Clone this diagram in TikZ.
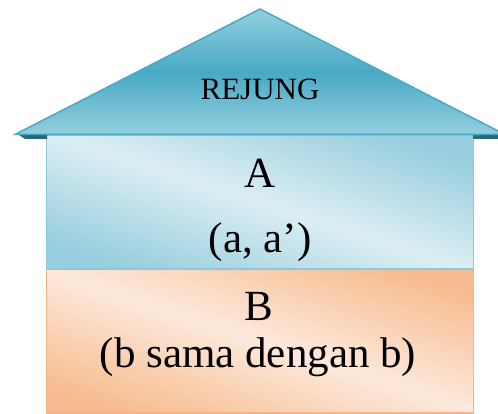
\documentclass[tikz,border=0pt]{standalone}
\usepackage{fontspec}
\setmainfont{Liberation Serif}
\definecolor{roofedge}{HTML}{4AA8C3}
\definecolor{roofmid}{HTML}{48A9C5}
\definecolor{rooflight}{HTML}{93CFDF}
\definecolor{roofdark}{HTML}{2A6878}
\definecolor{alight}{HTML}{DCEEF4}
\definecolor{adark}{HTML}{98CEDE}
\definecolor{aedge}{HTML}{8CCADB}
\definecolor{blight}{HTML}{FDE9DC}
\definecolor{bdark}{HTML}{F7BD90}
\definecolor{bedge}{HTML}{F4B487}
\tikzset{
  lbl/.style={anchor=base, inner sep=0pt, text=black},
  boxA/.style={draw=aedge, line width=1.5pt, top color=adark, bottom color=adark, middle color=alight, shading angle=-18},
  boxB/.style={draw=bedge, line width=1.5pt, top color=bdark, bottom color=bdark, middle color=blight, shading angle=-18},
  roofstyle/.style={draw=roofedge, line width=1.5pt, line join=miter, top color=rooflight, bottom color=rooflight, middle color=roofmid},
  shadowstrip/.style={fill=roofdark, draw=none}
}
\begin{document}
\begin{tikzpicture}[x=1pt,y=1pt]
\useasboundingbox (0,0) rectangle (498,414);
\clip (0,0) rectangle (498,414);
% box B (lower)
\path[boxB] (46.5,0.75) rectangle (473.5,145);
% box A (upper)
\path[boxA] (46.5,145) rectangle (473.5,279);
% dark underside of the roof
\fill[shadowstrip] (19,279) -- (47,279) -- (47,275) -- (25,275) -- cycle;
\fill[shadowstrip] (473,279) -- (504,279) -- (504,275) -- (473,275) -- cycle;
% roof
\path[roofstyle] (15,279.5) -- (260,405) -- (505,279.5) -- cycle;
% texts
\node[lbl, font=\fontsize{31}{36}\selectfont] (rejung) at (260,314) {REJUNG};
\node[lbl, font=\fontsize{43}{50}\selectfont] (a1) at (260,226) {A};
\node[lbl, font=\fontsize{43}{50}\selectfont] (a2) at (260,161) {(a, a’)};
\node[lbl, font=\fontsize{43}{50}\selectfont] (b1) at (259,93) {B};
\node[lbl, font=\fontsize{43}{50}\selectfont] (b2) at (258,46) {(b sama dengan b)};
\end{tikzpicture}
\end{document}
